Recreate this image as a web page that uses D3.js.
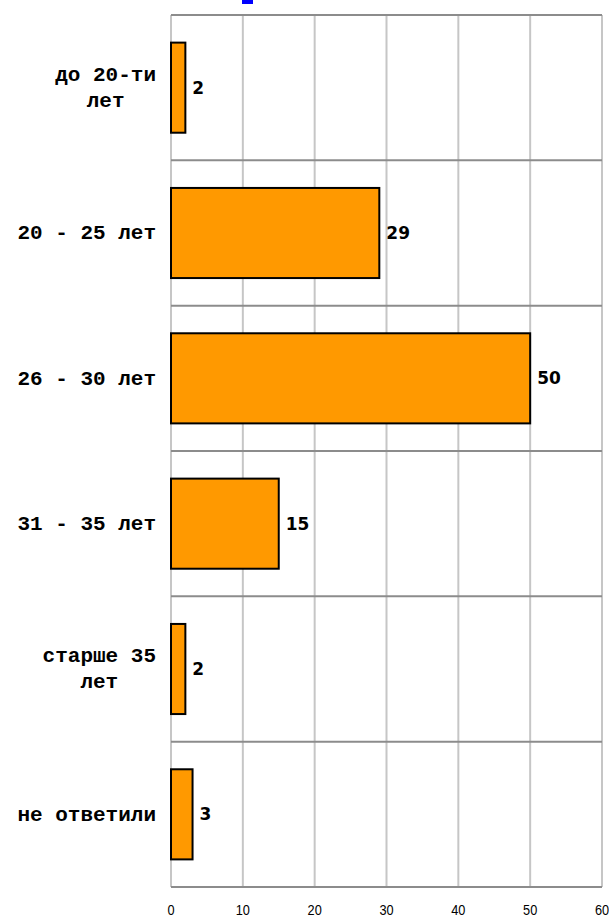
<!DOCTYPE html>
<html>
<head>
<meta charset="utf-8">
<script src="https://cdn.jsdelivr.net/npm/d3@7"></script>
<style>
  body { margin: 0; background: #fff; }
  svg { display: block; }
</style>
</head>
<body>
<svg width="609" height="917"></svg>
<script>
// data
var categories = [["до 20-ти", "лет"], ["20 - 25 лет"], ["26 - 30 лет"], ["31 - 35 лет"], ["старше 35", "лет"], ["не ответили"]];
var values = [2, 29, 50, 15, 2, 3];
var ticks = [0, 10, 20, 30, 40, 50, 60];

var svg = d3.select("svg");
var margin = {top: 15, right: 7, bottom: 30, left: 171};
var width = +svg.attr("width") - margin.left - margin.right,
    height = +svg.attr("height") - margin.top - margin.bottom;

var g = svg.append("g").attr("transform", "translate(" + margin.left + "," + margin.top + ")");

var x = d3.scaleLinear().domain([0, 60]).range([0, width]);
var y = d3.scaleBand().domain(d3.range(categories.length)).range([0, height]).padding(0);

// cut off title remnant at the top
svg.append("rect").attr("x", 242).attr("y", 0).attr("width", 11).attr("height", 4).attr("fill", "#0000ff");

// vertical grid
g.selectAll(".vgrid")
  .data(ticks)
  .enter().append("line")
  .attr("x1", function(d) { return x(d); })
  .attr("x2", function(d) { return x(d); })
  .attr("y1", 0)
  .attr("y2", height)
  .attr("stroke", "#c6c6c6")
  .attr("stroke-width", 2);

// horizontal separators (band edges)
var edges = d3.range(categories.length + 1);
g.selectAll(".hgrid")
  .data(edges)
  .enter().append("line")
  .attr("x1", 0)
  .attr("x2", width)
  .attr("y1", function(d) { return d == categories.length ? height : y(d); })
  .attr("y2", function(d) { return d == categories.length ? height : y(d); })
  .attr("stroke", "#8c8c8c")
  .attr("stroke-width", 2);

// x tick labels
g.selectAll(".tick")
  .data(ticks)
  .enter().append("text")
  .attr("x", function(d) { return x(d); })
  .attr("y", height + 28)
  .attr("text-anchor", "middle")
  .attr("font-family", "Liberation Sans, Arial, sans-serif")
  .attr("font-size", 15)
  .attr("fill", "#000")
  .attr("transform", function(d) { return "translate(" + x(d) + ",0) scale(0.85,1) translate(" + (-x(d)) + ",0)"; })
  .text(function(d) { return d; });

// bars
var barH = y.bandwidth() * 0.62;
g.selectAll(".bar")
  .data(values)
  .enter().append("rect")
  .attr("x", x(0))
  .attr("y", function(d, i) { return y(i) + (y.bandwidth() - barH) / 2; })
  .attr("width", function(d) { return x(d) - x(0); })
  .attr("height", barH)
  .attr("fill", "#ff9900")
  .attr("stroke", "#000")
  .attr("stroke-width", 2);

// value labels
g.selectAll(".val")
  .data(values)
  .enter().append("text")
  .attr("x", function(d) { return x(d) + 7; })
  .attr("y", function(d, i) { return y(i) + y.bandwidth() / 2; })
  .attr("dy", "0.36em")
  .attr("font-family", "DejaVu Sans, sans-serif")
  .attr("font-weight", "bold")
  .attr("font-size", 17)
  .attr("fill", "#000")
  .text(function(d) { return d; });

// category labels: block is right aligned, lines centred within it
var cat = g.selectAll(".cat")
  .data(categories)
  .enter().append("text")
  .attr("text-anchor", "middle")
  .attr("font-family", "Liberation Mono, Courier New, monospace")
  .attr("font-weight", "bold")
  .attr("font-size", 21)
  .attr("fill", "#000");

cat.each(function(lines, i) {
  var t = d3.select(this);
  var cy = y(i) + y.bandwidth() / 2;
  var lh = 26;
  var spans = lines.map(function(s, k) {
    return t.append("tspan")
      .attr("y", cy + (k - (lines.length - 1) / 2) * lh)
      .attr("dy", "0.3em")
      .text(s);
  });
  var maxW = d3.max(spans, function(s) { return s.node().getComputedTextLength(); });
  spans.forEach(function(s) { s.attr("x", -15 - maxW / 2); });
});
</script>
</body>
</html>
